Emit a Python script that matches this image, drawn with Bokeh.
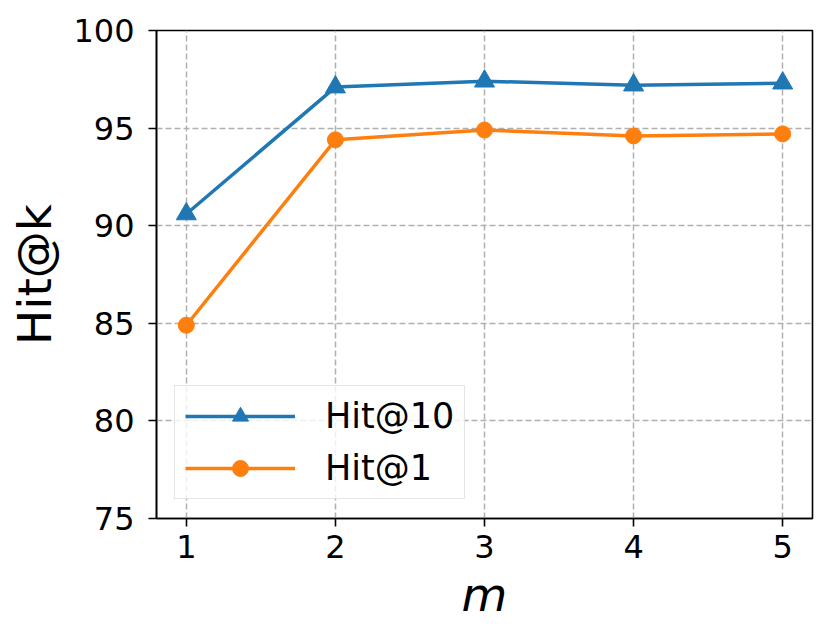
from bokeh.plotting import figure
from bokeh.models import Range1d, FixedTicker, Legend, LegendItem
from bokeh.embed import file_html
from bokeh.resources import INLINE

m_values = [1, 2, 3, 4, 5]
hit10 = [90.6, 97.1, 97.4, 97.2, 97.3]
hit1 = [84.9, 94.4, 94.9, 94.6, 94.7]
y_ticks = [75, 80, 85, 90, 95, 100]
series_names = ["Hit@10", "Hit@1"]

BLUE = "#1f77b4"
ORANGE = "#ff7f0e"
FONT = "DejaVu Sans"

p = figure(frame_width=656, frame_height=488, output_backend="svg",
           toolbar_location=None,
           x_range=Range1d(0.8, 5.2), y_range=Range1d(75, 100),
           min_border_left=156, min_border_top=30, min_border_right=6,
           min_border_bottom=108)
p.background_fill_color = "white"
p.border_fill_color = "white"
p.outline_line_color = "black"
p.outline_line_width = 1.6

for ax in (p.xaxis[0], p.yaxis[0]):
    ax.axis_line_width = 1.6
    ax.major_tick_line_width = 1.6
    ax.major_tick_in = 0
    ax.major_tick_out = 8
    ax.minor_tick_line_color = None
    ax.major_label_text_font = FONT
    ax.major_label_text_font_size = "32px"
    ax.major_label_text_color = "black"
    ax.axis_label_text_font = FONT
    ax.axis_label_text_font_size = "47px"
    ax.axis_label_text_color = "black"

p.xaxis.ticker = FixedTicker(ticks=m_values)
p.yaxis.ticker = FixedTicker(ticks=y_ticks)
p.xaxis.axis_label = "m"
p.xaxis.axis_label_text_font_style = "italic"
p.yaxis.axis_label = "Hit@k"
p.yaxis.axis_label_text_font_style = "normal"
p.xaxis.major_label_standoff = 8
p.yaxis.major_label_standoff = 14
p.xaxis.axis_label_standoff = 6
p.yaxis.axis_label_standoff = 8

for g in (p.xgrid[0], p.ygrid[0]):
    g.grid_line_color = "#b0b0b0"
    g.grid_line_width = 1.5
    g.grid_line_dash = "6 3"

l1 = p.line(m_values, hit10, line_color=BLUE, line_width=3.5)
s1 = p.scatter(m_values, hit10, marker="triangle", size=20, fill_color=BLUE,
               line_color=BLUE)
l2 = p.line(m_values, hit1, line_color=ORANGE, line_width=3.5)
s2 = p.scatter(m_values, hit1, marker="circle", size=16, fill_color=ORANGE,
               line_color=ORANGE)

legend = Legend(items=[LegendItem(label=series_names[0], renderers=[l1, s1]),
                       LegendItem(label=series_names[1], renderers=[l2, s2])],
                location=(18, 19))
legend.label_text_font = FONT
legend.label_text_font_size = "35px"
legend.label_text_color = "black"
legend.glyph_width = 110
legend.glyph_height = 40
legend.label_height = 40
legend.spacing = 12
legend.padding = 10
legend.margin = 0
legend.label_standoff = 30
legend.border_line_color = "#cccccc"
legend.border_line_width = 1.5
legend.background_fill_color = "white"
legend.background_fill_alpha = 0.8
p.add_layout(legend, "center")

open("out.html", "w").write(file_html(p, INLINE))
